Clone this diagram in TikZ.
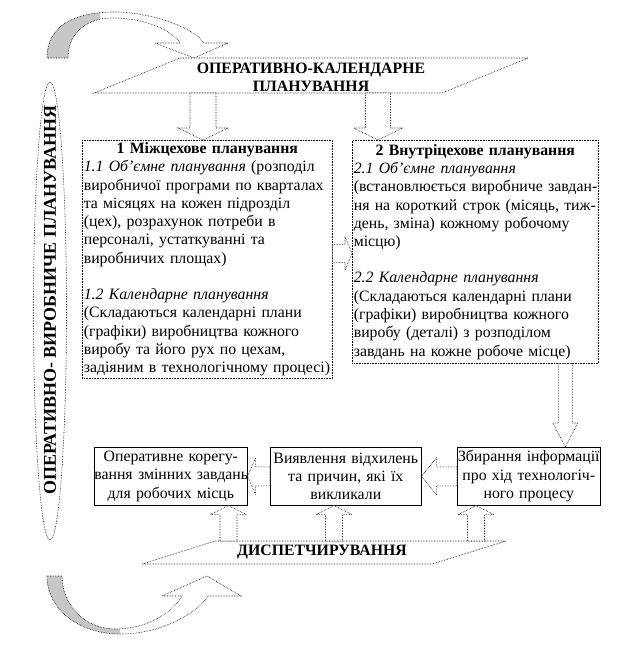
\documentclass[tikz,border=0pt]{standalone}
\usepackage{fontspec}
\setmainfont{Liberation Serif}
\usetikzlibrary{positioning,calc,shapes.geometric}

% hollow block arrow: from, to, shaft half width, head half width, head length
\newcommand{\blockarrow}[5]{%
  \draw[blk] let \p1=(#1), \p2=(#2),
      \n1={veclen(\x2-\x1,\y2-\y1)},
      \n2={(\x2-\x1)/\n1}, \n3={(\y2-\y1)/\n1} in
    ({\x1-(\n3)*#3},{\y1+(\n2)*#3})
    -- ({\x2-(\n2)*#5-(\n3)*#3},{\y2-(\n3)*#5+(\n2)*#3})
    -- ({\x2-(\n2)*#5-(\n3)*#4},{\y2-(\n3)*#5+(\n2)*#4})
    -- (\p2)
    -- ({\x2-(\n2)*#5+(\n3)*#4},{\y2-(\n3)*#5-(\n2)*#4})
    -- ({\x2-(\n2)*#5+(\n3)*#3},{\y2-(\n3)*#5-(\n2)*#3})
    -- ({\x1+(\n3)*#3},{\y1-(\n2)*#3}) -- cycle;}

\begin{document}
\fontsize{15.8}{18.3}\selectfont
\begin{tikzpicture}[x=1pt, y=-1pt,
  frame/.style={densely dotted, line width=0.6pt},
  blk/.style={draw, fill=white, densely dotted, line width=0.6pt},
  bigbox/.style={draw, densely dotted, line width=0.6pt, fill=white,
                 anchor=north west, align=left, inner xsep=1.5pt, inner ysep=1pt},
  smallbox/.style={draw, line width=0.6pt, fill=white, anchor=north west,
                   align=center, inner xsep=0pt, inner ysep=0pt, minimum height=58pt},
  caps/.style={font=\bfseries, align=center, inner sep=0pt},
  band/.style={draw, densely dotted, line width=0.6pt},
  shadow/.style={fill=black!22},
]
\useasboundingbox (0,0) rectangle (623,648);

% ================= curved arrows on the left =================
\path[save path=\topcurve] (47,58) .. controls (47,25) and (75,12) .. (115,12)
  .. controls (150,12) and (195,28) .. (204,43) -- (228,43) -- (194,58)
  -- (155,43) -- (180,43) .. controls (172,30) and (145,18) .. (112,18)
  .. controls (88,18) and (68,32) .. (68,58) -- cycle;
\path[save path=\botcurve] (47,576) .. controls (47,610) and (80,634) .. (120,634)
  .. controls (160,634) and (195,615) .. (208,596) -- (241,596) -- (207,576)
  -- (162,596) -- (182,596) .. controls (170,615) and (145,629) .. (115,629)
  .. controls (85,629) and (62,605) .. (62,576) -- cycle;
\fill[white, use path=\topcurve];
\begin{scope}
  \clip (0,0) rectangle (100,70);
  \fill[shadow, use path=\topcurve];
\end{scope}
\draw[band, use path=\topcurve];
\fill[white, use path=\botcurve];
\begin{scope}
  \clip (0,560) rectangle (120,648);
  \fill[shadow, use path=\botcurve];
\end{scope}
\draw[band, use path=\botcurve];

\node[ellipse, draw, frame, rotate=90, minimum width=458, minimum height=33,
      inner sep=0pt] (opv) at (50,311) {};
\node[rotate=90, inner sep=0pt, font=\fontsize{18}{20}\selectfont\bfseries]
  (opvtext) at (50,300) {ОПЕРАТИВНО- ВИРОБНИЧЕ ПЛАНУВАННЯ};

% ================= top: planning band =================
\draw[frame, fill=white] (180,58) -- (528,58) -- (442,93) -- (94,93) -- cycle;
\node[caps] (okp) at (311,77) {ОПЕРАТИВНО-КАЛЕНДАРНЕ\\ПЛАНУВАННЯ};
\coordinate (t1) at (203,93);
\coordinate (t2) at (378,93);

% ================= the two planning boxes =================
\node[bigbox, text width=247, minimum height=238] (mizh) at (82,140)
  {\hfill\textbf{1 Міжцехове планування}\hfill\null\\
   \textit{1.1 Об’ємне планування} (розподіл\\
   \mbox{виробничої програми по кварталах}\\
   та місяцях на кожен підрозділ\\
   (цех), розрахунок потреби в\\
   персоналі, устаткуванні та\\
   виробничих площах)\\[18pt]
   \textit{1.2 Календарне планування}\\
   (Складаються календарні плани\\
   (графіки) виробництва кожного\\
   виробу та його рух по цехам,\\
   \mbox{задіяним в технологічному процесі)}};
\node[bigbox, text width=243, minimum height=223] (vnutr) at (352,140)
  {\hfill\textbf{2 Внутріцехове планування}\hfill\null\\
   \textit{2.1 Об’ємне планування}\\
   \mbox{(встановлюється виробниче завдан-}\\
   \mbox{ня на короткий строк (місяць, тиж-}\\
   день, зміна) кожному робочому\\
   місцю)\\[18pt]
   \textit{2.2 Календарне планування}\\
   (Складаються календарні плани\\
   (графіки) виробництва кожного\\
   виробу (деталі) з розподілом\\
   \mbox{завдань на кожне робоче місце)}};

\blockarrow{t1}{t1 |- mizh.north}{13}{25}{12}
\blockarrow{t2}{t2 |- vnutr.north}{12.5}{24.5}{12}
\coordinate (m1) at ([yshift=6pt]mizh.east);
\blockarrow{m1}{m1 -| vnutr.west}{9}{17}{7}

% ================= dispatching row =================
\node[smallbox, text width=153] (koreg) at (94,447)
  {\mbox{Оперативне корегу-}\\\mbox{вання змінних завдань}\\для робочих місць};
\node[smallbox, text width=151] (vyyavl) at (270,447)
  {\mbox{Виявлення відхилень}\\та причин, які їх\\викликали};
\node[smallbox, text width=143] (zbyr) at (457,447)
  {\mbox{Збирання інформації}\\\mbox{про хід технологіч-}\\ного процесу};

\coordinate (m2) at ([xshift=90pt]vnutr.south);
\blockarrow{m2}{m2 |- zbyr.north}{7}{12.5}{24}
\blockarrow{zbyr.west}{vyyavl.east}{9.5}{18.5}{15}
\blockarrow{vyyavl.west}{koreg.east}{9.5}{18.5}{8}

\draw[frame, fill=white] (215,541) -- (506,541) -- (432,564) -- (142,564) -- cycle;
\node[caps] (disp) at (322,552) {ДИСПЕТЧИРУВАННЯ};
\coordinate (u1) at (228.5,541);
\coordinate (u2) at (334,541);
\coordinate (u3) at (476,541);
\foreach \u/\b in {u1/koreg, u2/vyyavl, u3/zbyr}
  {\blockarrow{\u}{\u |- \b.south}{8.5}{18}{9}}

\end{tikzpicture}
\end{document}
